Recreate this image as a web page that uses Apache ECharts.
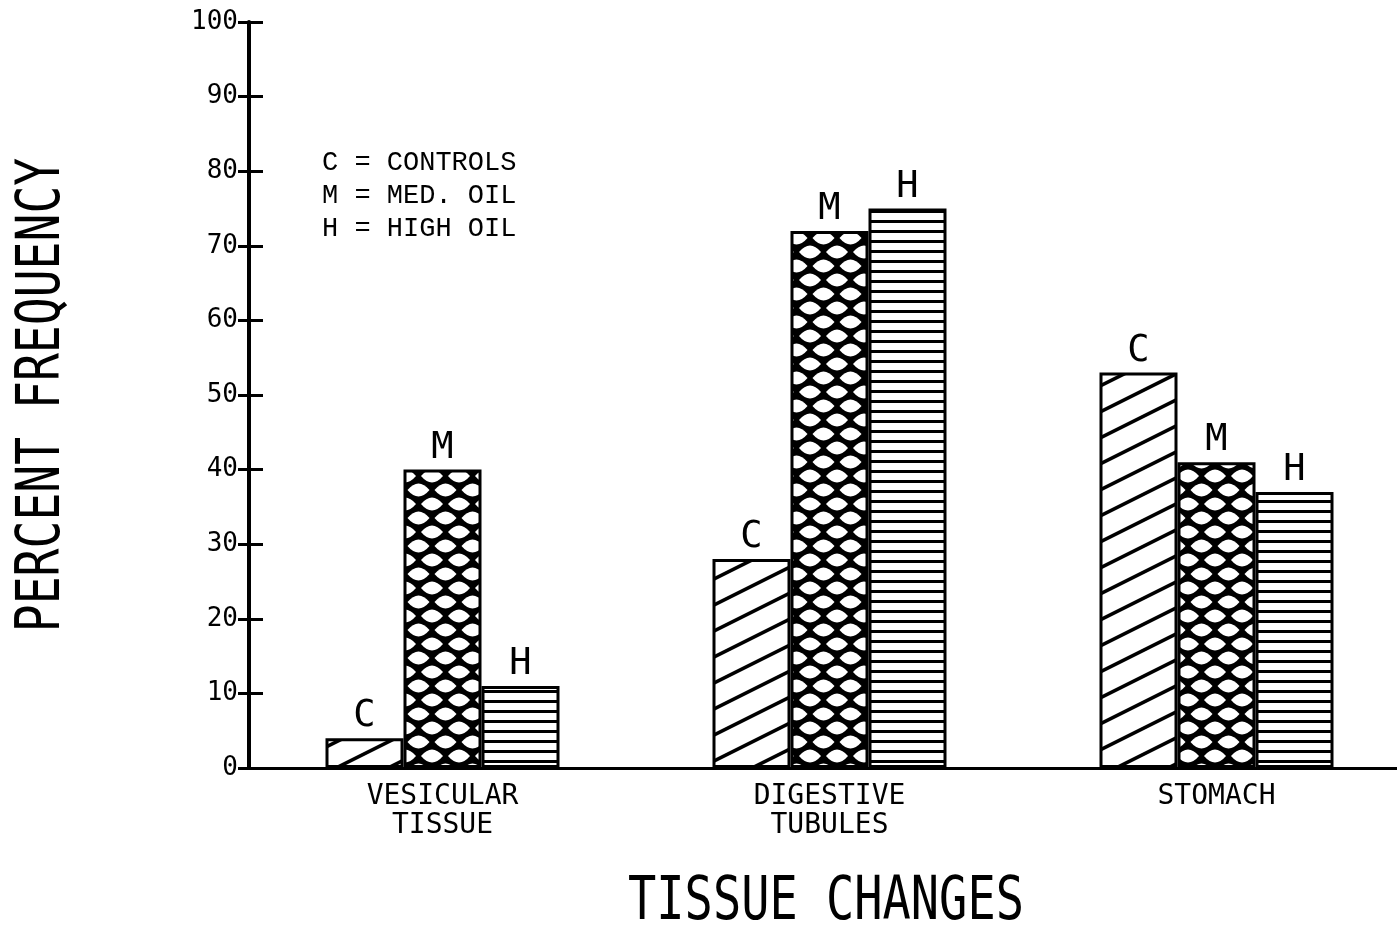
<!DOCTYPE html>
<html>
<head>
<meta charset="utf-8">
<script src="https://cdn.jsdelivr.net/npm/echarts@6/dist/echarts.min.js"></script>
<style>
  html, body { margin: 0; padding: 0; background: #fff; overflow: hidden; }
  #chart { width: 1420px; height: 927px; }
</style>
</head>
<body>
<div id="chart"></div>
<script>
// ---- data ----
const categories = ['VESICULAR\nTISSUE', 'DIGESTIVE\nTUBULES', 'STOMACH'];
const seriesNames = ['C', 'M', 'H'];
const controls = [4, 28, 53];
const medOil = [40, 72, 41];
const highOil = [11, 75, 37];
const yTicks = [0, 10, 20, 30, 40, 50, 60, 70, 80, 90, 100];
const legendLines = ['C = CONTROLS', 'M = MED. OIL', 'H = HIGH OIL'];

// ---- patterns ----
function diagPattern() {
  const w = 52, h = 26;
  const c = document.createElement('canvas');
  c.width = w; c.height = h;
  const g = c.getContext('2d');
  g.fillStyle = '#fff'; g.fillRect(0, 0, w, h);
  g.strokeStyle = '#000'; g.lineWidth = 3.6;
  for (let k = -2; k <= 2; k++) {
    g.beginPath();
    g.moveTo(-10, h + 5 + k * h);
    g.lineTo(w + 10, -5 + k * h);
    g.stroke();
  }
  return c;
}
function crossPattern() {
  const w = 27, h = 28;
  const c = document.createElement('canvas');
  c.width = w; c.height = h;
  const g = c.getContext('2d');
  g.fillStyle = '#000'; g.fillRect(0, 0, w, h);
  g.fillStyle = '#fff';
  const pts = [[0, 0], [w, 0], [0, h], [w, h], [w / 2, h / 2]];
  const hw = 11, ch = 13;
  pts.forEach(([cx, cy]) => {
    g.beginPath();
    g.moveTo(cx - hw, cy);
    g.quadraticCurveTo(cx, cy - ch, cx + hw, cy);
    g.quadraticCurveTo(cx, cy + ch, cx - hw, cy);
    g.closePath();
    g.fill();
  });
  return c;
}
function horizPattern() {
  const w = 10;
  const c = document.createElement('canvas');
  c.width = w; c.height = 10;
  const g = c.getContext('2d');
  g.fillStyle = '#fff'; g.fillRect(0, 0, w, 10);
  g.fillStyle = '#000'; g.fillRect(0, 0, w, 3);
  return c;
}

const patterns = [diagPattern(), crossPattern(), horizPattern()];
const values = [controls, medOil, highOil];

const chart = echarts.init(document.getElementById('chart'), null, { renderer: 'canvas' });

const monoFont = "'DejaVu Sans Mono', 'Liberation Mono', monospace";

const series = seriesNames.map((name, i) => ({
  name: name,
  type: 'bar',
  data: values[i],
  barWidth: 78,
  barGap: '0%',
  itemStyle: {
    color: { image: patterns[i], repeat: 'repeat' },
    borderColor: '#000',
    borderWidth: 3
  },
  label: {
    show: true,
    position: 'top',
    distance: 3,
    formatter: '{a}',
    color: '#000',
    fontFamily: monoFont,
    fontSize: 37
  }
}));

const option = {
  backgroundColor: '#fff',
  animation: false,
  grid: { left: 249, top: 22, width: 1161, height: 746, containLabel: false },
  xAxis: {
    type: 'category',
    data: categories,
    axisLine: { show: true, lineStyle: { color: '#000', width: 3 } },
    axisTick: { show: false },
    axisLabel: {
      color: '#000',
      fontFamily: monoFont,
      fontSize: 28,
      lineHeight: 29,
      margin: 14
    },
    splitLine: { show: false }
  },
  yAxis: [
    {
      type: 'value',
      min: 0, max: 100, interval: 10,
      axisLine: { show: true, lineStyle: { color: '#000', width: 4 } },
      axisTick: { show: true, inside: false, length: 11, lineStyle: { color: '#000', width: 3 } },
      axisLabel: {
        color: '#000', fontFamily: monoFont, fontSize: 26, margin: 11,
        formatter: v => (yTicks.indexOf(v) >= 0 ? String(v) : '')
      },
      splitLine: { show: false }
    },
    {
      type: 'value',
      position: 'left',
      min: 0, max: 100, interval: 10,
      axisLine: { show: false },
      axisTick: { show: true, inside: true, length: 14, lineStyle: { color: '#000', width: 3 } },
      axisLabel: { show: false },
      splitLine: { show: false }
    }
  ],
  series: series,
  graphic: [
    {
      type: 'text',
      left: 322, top: 146,
      style: {
        text: legendLines.join('\n'),
        font: "27px 'Liberation Mono', 'DejaVu Sans Mono', monospace",
        fill: '#000',
        lineHeight: 33
      }
    },
    {
      type: 'text',
      x: 826, y: 903,
      scaleX: 0.77,
      style: {
        text: 'TISSUE CHANGES',
        font: "61px 'DejaVu Sans Mono', monospace",
        fill: '#000',
        textAlign: 'center',
        textVerticalAlign: 'middle'
      }
    },
    {
      type: 'text',
      x: 43, y: 395,
      rotation: Math.PI / 2,
      scaleX: 0.76,
      style: {
        text: 'PERCENT FREQUENCY',
        font: "61px 'DejaVu Sans Mono', monospace",
        fill: '#000',
        textAlign: 'center',
        textVerticalAlign: 'middle'
      }
    }
  ]
};
chart.setOption(option);
</script>
</body>
</html>
